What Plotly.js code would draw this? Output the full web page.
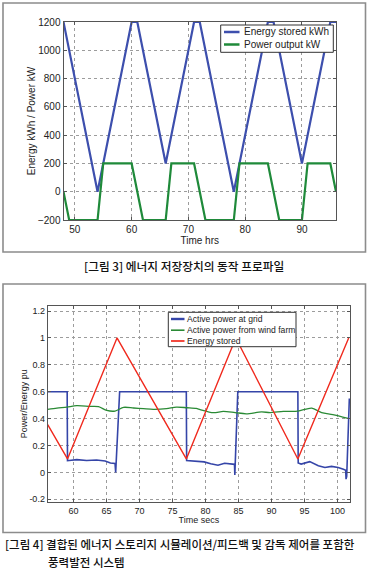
<!DOCTYPE html>
<html>
<head>
<meta charset="utf-8">
<script src="https://cdn.plot.ly/plotly-3.0.1.min.js"></script>
<style>
  html, body { margin: 0; padding: 0; background: #ffffff; }
  #chart { width: 374px; height: 574px; }
</style>
</head>
<body>
<div id="chart"></div>
<script>
// ---------- Figure 3: energy storage operating profile ----------
var hoursEnergy = [48, 54, 60, 61, 66, 71, 72, 78, 84, 85, 90, 95, 96];
var energyKWh   = [1200, 0, 1200, 1200, 200, 1200, 1200, 0, 1200, 1200, 200, 1200, 1200];

var hoursPower = [48, 49, 54, 55, 60, 62, 66, 67, 71, 73, 78, 79, 84, 86, 90, 91, 95, 96];
var powerKW    = [0, -200, -200, 200, 200, -200, -200, 200, 200, -200, -200, 200, 200, -200, -200, 200, 200, 0];

var fig3XTicks = [50, 60, 70, 80, 90];
var fig3YTicks = [-200, 0, 200, 400, 600, 800, 1000, 1200];

// ---------- Figure 4: wind farm with storage ----------
var tGrid = [56.1, 59.05, 59.1, 60.5, 62.0, 63.5, 64.8, 65.6, 66.3, 66.4,
             67.0, 77.1, 77.15, 78.5, 79.8, 80.8, 81.9, 82.9, 83.8, 84.4,
             84.45, 84.9, 94.0, 94.05, 94.5, 95.8, 97.1, 98.1, 99.1, 100.1,
             100.9, 101.25, 101.3, 101.4, 101.8];
var pGrid = [0.6, 0.6, 0.087, 0.095, 0.088, 0.092, 0.085, 0.07, 0.066, 0.0,
             0.6, 0.6, 0.088, 0.085, 0.078, 0.065, 0.053, 0.068, 0.062, 0.06,
             -0.02, 0.6, 0.6, 0.07, 0.062, 0.08, 0.05, 0.036, 0.045, 0.036,
             0.023, 0.015, -0.05, -0.03, 0.55];

var tWind = [56.1, 57.5, 59.0, 60.5, 62.5, 63.8, 65.05, 66.3, 67.6, 69.1,
             70.6, 72.1, 74.1, 75.6, 77.2, 78.6, 79.2, 81.2, 82.7, 84.5,
             86.2, 88.5, 89.8, 91.8, 94.0, 96.1, 97.6, 99.3, 101.6];
var pWind = [0.469, 0.478, 0.486, 0.496, 0.491, 0.489, 0.461, 0.456, 0.484, 0.479,
             0.474, 0.469, 0.474, 0.486, 0.481, 0.476, 0.467, 0.444, 0.454, 0.445,
             0.436, 0.45, 0.445, 0.454, 0.456, 0.478, 0.444, 0.430, 0.402];

var tStored = [56.1, 59.1, 66.6, 77.1, 84.6, 94.0, 101.7];
var eStored = [0.355, 0.1, 1.0, 0.1, 1.0, 0.1, 1.0];

var fig4XTicks = [60, 65, 70, 75, 80, 85, 90, 95, 100];
var fig4YTicks = [-0.2, 0, 0.2, 0.4, 0.6, 0.8, 1, 1.2];
var fig4YTickText = ['-0.2', '0', '0.2', '0.4', '0.6', '0.8', '1', '1.2'];

var caption3 = '[그림 3] 에너지 저장장치의 동작 프로파일';
var caption4a = '[그림 4] 결합된 에너지 스토리지 시뮬레이션/피드백 및 감독 제어를 포함한';
var caption4b = '풍력발전 시스템';

// ---------- layout helpers (pixel -> paper) ----------
var W = 374, H = 574;
function px(x) { return x / W; }
function py(y) { return 1 - y / H; }

var FONT = 'Liberation Sans, Arial, sans-serif';
var KFONT = 'Noto Sans CJK KR, sans-serif';

var traces = [
  { x: hoursEnergy, y: energyKWh, type: 'scatter', mode: 'lines', name: 'Energy stored kWh',
    xaxis: 'x', yaxis: 'y', line: { color: '#3d4fad', width: 2.2 } },
  { x: hoursPower, y: powerKW, type: 'scatter', mode: 'lines', name: 'Power output kW',
    xaxis: 'x', yaxis: 'y', line: { color: '#1f8a3a', width: 2.2 } },
  { x: tGrid, y: pGrid, type: 'scatter', mode: 'lines', name: 'Active power at grid',
    xaxis: 'x2', yaxis: 'y2', line: { color: '#3545a8', width: 1.6 } },
  { x: tWind, y: pWind, type: 'scatter', mode: 'lines', name: 'Active power from wind farm',
    xaxis: 'x2', yaxis: 'y2', line: { color: '#2a8a35', width: 1.3, shape: 'spline', smoothing: 0.8 } },
  { x: tStored, y: eStored, type: 'scatter', mode: 'lines', name: 'Energy stored',
    xaxis: 'x2', yaxis: 'y2', line: { color: '#f02a1e', width: 1.4 } }
];

function axisBase(size) {
  return {
    showgrid: true, griddash: 'dot', gridcolor: '#9c9c9c', gridwidth: 1,
    zeroline: false, showline: true, mirror: 'ticks', linecolor: '#555', linewidth: 1,
    ticks: 'inside', ticklen: 3, tickcolor: '#555',
    tickfont: { family: FONT, size: size, color: '#222' }
  };
}

var xa1 = Object.assign(axisBase(10), {
  domain: [px(63.5), px(336)], anchor: 'y', range: [48, 96],
  tickmode: 'array', tickvals: fig3XTicks,
  title: { text: 'Time hrs', font: { family: FONT, size: 10, color: '#222' }, standoff: 0 }
});
var ya1 = Object.assign(axisBase(10), {
  domain: [py(220), py(22)], anchor: 'x', range: [-200, 1200],
  tickmode: 'array', tickvals: fig3YTicks,
  title: { text: 'Energy kWh / Power kW', font: { family: FONT, size: 10, color: '#222' }, standoff: 0 }
});
var xa2 = Object.assign(axisBase(9), {
  domain: [px(47.7), px(350)], anchor: 'y2', range: [56.1, 101.9],
  tickmode: 'array', tickvals: fig4XTicks,
  title: { text: 'Time secs', font: { family: FONT, size: 9, color: '#222' }, standoff: 0 }
});
var ya2 = Object.assign(axisBase(9), {
  domain: [py(501.7), py(305.7)], anchor: 'x2', range: [-0.218, 1.24],
  tickmode: 'array', tickvals: fig4YTicks, ticktext: fig4YTickText,
  title: { text: 'Power/Energy pu', font: { family: FONT, size: 9, color: '#222' }, standoff: 0 }
});

var shapes = [
  { type: 'rect', xref: 'paper', yref: 'paper', x0: px(3), x1: px(365.5), y0: py(252), y1: py(3),
    line: { color: '#8c8c8c', width: 1.6 }, fillcolor: 'rgba(0,0,0,0)', layer: 'below' },
  { type: 'rect', xref: 'paper', yref: 'paper', x0: px(3), x1: px(365.5), y0: py(532.5), y1: py(284),
    line: { color: '#8c8c8c', width: 1.6 }, fillcolor: 'rgba(0,0,0,0)', layer: 'below' }
];

var capFont = { family: KFONT, size: 11.5, color: '#111', weight: 500 };
var annotations = [
  { text: caption3, xref: 'paper', yref: 'paper', x: px(184), y: py(265),
    xanchor: 'center', yanchor: 'middle', showarrow: false, borderpad: 0,
    font: { family: KFONT, size: 11.7, color: '#111', weight: 500 } },
  { text: caption4a, xref: 'paper', yref: 'paper', x: px(4), y: py(544.3),
    xanchor: 'left', yanchor: 'middle', showarrow: false, borderpad: 0, font: capFont },
  { text: caption4b, xref: 'paper', yref: 'paper', x: px(47), y: py(561.6),
    xanchor: 'left', yanchor: 'middle', showarrow: false, borderpad: 0, font: capFont }
];

// Compact MATLAB-style legend boxes (drawn from the trace names/styles)
function addLegend(box, traceIdx, rowYs, sampleX0, sampleX1, textX, fontSize) {
  shapes.push({ type: 'rect', xref: 'paper', yref: 'paper', layer: 'above',
    x0: px(box[0]), x1: px(box[1]), y0: py(box[3]), y1: py(box[2]),
    line: { color: '#333', width: 1 }, fillcolor: '#ffffff' });
  traceIdx.forEach(function (ti, k) {
    var tr = traces[ti];
    shapes.push({ type: 'line', xref: 'paper', yref: 'paper', layer: 'above',
      x0: px(sampleX0), x1: px(sampleX1), y0: py(rowYs[k]), y1: py(rowYs[k]),
      line: { color: tr.line.color, width: tr.line.width + (ti === 2 ? 0.8 : 0.3) } });
    annotations.push({ text: tr.name, xref: 'paper', yref: 'paper',
      x: px(textX), y: py(rowYs[k]), xanchor: 'left', yanchor: 'middle', showarrow: false,
      borderpad: 0, font: { family: FONT, size: fontSize, color: '#222' } });
  });
}
addLegend([220.7, 333.3, 25, 52.3], [0, 1], [32, 44.5], 224, 239.5, 242.5, 10);
addLegend([168.3, 296, 312.3, 346.7], [2, 3, 4], [319, 330.2, 341], 171, 184.5, 185.5, 8.6);

var layout = {
  width: W, height: H,
  margin: { l: 0, r: 0, t: 0, b: 0 },
  paper_bgcolor: '#ffffff', plot_bgcolor: '#ffffff',
  font: { family: FONT, color: '#222' },
  xaxis: xa1, yaxis: ya1, xaxis2: xa2, yaxis2: ya2,
  shapes: shapes,
  annotations: annotations,
  showlegend: false
};

Plotly.newPlot('chart', traces, layout, { staticPlot: true, displayModeBar: false });
</script>
</body>
</html>
